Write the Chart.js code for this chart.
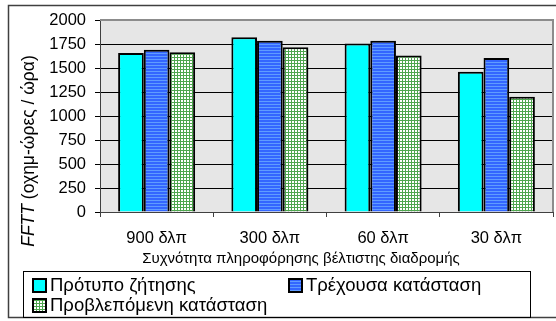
<!DOCTYPE html>
<html>
<head>
<meta charset="utf-8">
<script src="https://cdn.jsdelivr.net/npm/chart.js@4/dist/chart.umd.min.js"></script>
<style>
  html, body { margin: 0; padding: 0; background: #ffffff; }
  #wrap { position: relative; width: 556px; height: 321px; }
</style>
</head>
<body>
<div id="wrap"><canvas id="c" width="556" height="321"></canvas></div>
<script>
// Categories: update frequency of the best-route information
const categories = ['900 δλπ', '300 δλπ', '60 δλπ', '30 δλπ'];

// Series values (FFTT, vehicle-hours / hour)
const demandModel = [1655, 1820, 1755, 1460];
const currentState = [1690, 1785, 1785, 1605];
const predictedState = [1665, 1715, 1630, 1200];

const seriesNames = ['Πρότυπο ζήτησης', 'Τρέχουσα κατάσταση', 'Προβλεπόμενη κατάσταση'];
const yTicks = [0, 250, 500, 750, 1000, 1250, 1500, 1750, 2000];

const xTitle = 'Συχνότητα πληροφόρησης βέλτιστης διαδρομής';
const yTitleItalic = 'FFTT';
const yTitleRest = ' (οχημ-ώρες / ώρα)';

const FONT = '"Liberation Sans", Arial, sans-serif';

// Fill patterns
function makePattern(w, h, paint) {
  const cv = document.createElement('canvas');
  cv.width = w; cv.height = h;
  const g = cv.getContext('2d');
  paint(g);
  return g.createPattern(cv, 'repeat');
}
const blueStripes = makePattern(3, 3, g => {
  g.fillStyle = '#3366ff'; g.fillRect(0, 0, 3, 3);
  g.fillStyle = '#5f9cff'; g.fillRect(0, 2, 3, 1);
});
const greenGrid = makePattern(3, 3, g => {
  g.fillStyle = '#ffffff'; g.fillRect(0, 0, 3, 3);
  g.fillStyle = '#4ea64e'; g.fillRect(0, 0, 3, 1); g.fillRect(0, 0, 1, 3);
});
const fills = ['#00ffff', blueStripes, greenGrid];

// Frame, plot background, titles and legend
const decor = {
  id: 'decor',
  beforeDraw(chart) {
    const ctx = chart.ctx;
    const a = chart.chartArea;
    ctx.save();
    ctx.fillStyle = '#ffffff';
    ctx.fillRect(0, 0, chart.width, chart.height);
    ctx.fillStyle = '#e6e6e6';
    ctx.fillRect(a.left, a.top, a.right - a.left, a.bottom - a.top);
    ctx.restore();
  },
  afterDraw(chart) {
    const ctx = chart.ctx;
    const a = chart.chartArea;
    ctx.save();
    // plot border (top / right)
    ctx.strokeStyle = '#8c8c8c';
    ctx.lineWidth = 2;
    ctx.beginPath();
    ctx.moveTo(a.left, a.top);
    ctx.lineTo(a.right, a.top);
    ctx.lineTo(a.right, a.bottom);
    ctx.stroke();

    // outer frame
    ctx.strokeStyle = '#404040';
    ctx.lineWidth = 1.5;
    ctx.strokeRect(8.5, 5.5, 560, 312);

    // x title
    ctx.fillStyle = '#000000';
    ctx.font = '15px ' + FONT;
    ctx.textAlign = 'center';
    ctx.textBaseline = 'middle';
    ctx.fillText(xTitle, 301, 259);

    // y title (rotated, first word italic)
    ctx.translate(29, 151);
    ctx.rotate(-Math.PI / 2);
    const fi = 'italic 17.5px ' + FONT, fn = '17.5px ' + FONT;
    ctx.font = fi; const w1 = ctx.measureText(yTitleItalic).width;
    ctx.font = fn; const w2 = ctx.measureText(yTitleRest).width;
    let x0 = -(w1 + w2) / 2;
    ctx.textAlign = 'left';
    ctx.font = fi; ctx.fillText(yTitleItalic, x0, 0);
    ctx.font = fn; ctx.fillText(yTitleRest, x0 + w1, 0);
    ctx.setTransform(1, 0, 0, 1, 0, 0);

    // legend
    ctx.strokeStyle = '#000000';
    ctx.lineWidth = 1;
    ctx.strokeRect(23.5, 271.5, 507, 46);
    const pos = [[33, 285], [289, 285], [33, 305]];
    ctx.font = '18.5px ' + FONT;
    ctx.textAlign = 'left';
    ctx.textBaseline = 'middle';
    chart.data.datasets.forEach((ds, i) => {
      const [x, y] = pos[i];
      ctx.fillStyle = ds.backgroundColor;
      ctx.fillRect(x, y - 6, 13, 13);
      ctx.lineWidth = 2;
      ctx.strokeRect(x, y - 6, 13, 13);
      ctx.fillStyle = '#000000';
      ctx.fillText(ds.label, x + 17, y + 1);
    });
    ctx.restore();
  }
};

new Chart(document.getElementById('c'), {
  type: 'bar',
  data: {
    labels: categories,
    datasets: [demandModel, currentState, predictedState].map((d, i) => ({
      label: seriesNames[i],
      data: d,
      backgroundColor: fills[i],
      borderColor: '#000000',
      borderWidth: 2,
      categoryPercentage: 0.68,
      barPercentage: 1.0
    }))
  },
  options: {
    responsive: false,
    animation: false,
    layout: { padding: { left: 0, top: 20, right: 3, bottom: 0 } },
    plugins: { legend: { display: false }, tooltip: { enabled: false } },
    scales: {
      x: {
        grid: { display: true, drawOnChartArea: false, color: '#404040', tickLength: 5, offset: true },
        border: { color: '#404040', width: 1 },
        ticks: { color: '#000000', font: { family: FONT, size: 16.5 }, padding: 12, maxRotation: 0 },
        afterFit(s) { s.height = 109; }
      },
      y: {
        min: 0, max: 2000,
        afterBuildTicks(s) { s.ticks = yTicks.map(v => ({ value: v })); },
        grid: { color: '#000000', lineWidth: 1, tickLength: 5 },
        border: { color: '#404040', width: 1 },
        ticks: { color: '#000000', font: { family: FONT, size: 16.5 }, padding: 9, callback: v => String(v) },
        afterFit(s) { s.width = 100; }
      }
    }
  },
  plugins: [decor]
});
</script>
</body>
</html>
